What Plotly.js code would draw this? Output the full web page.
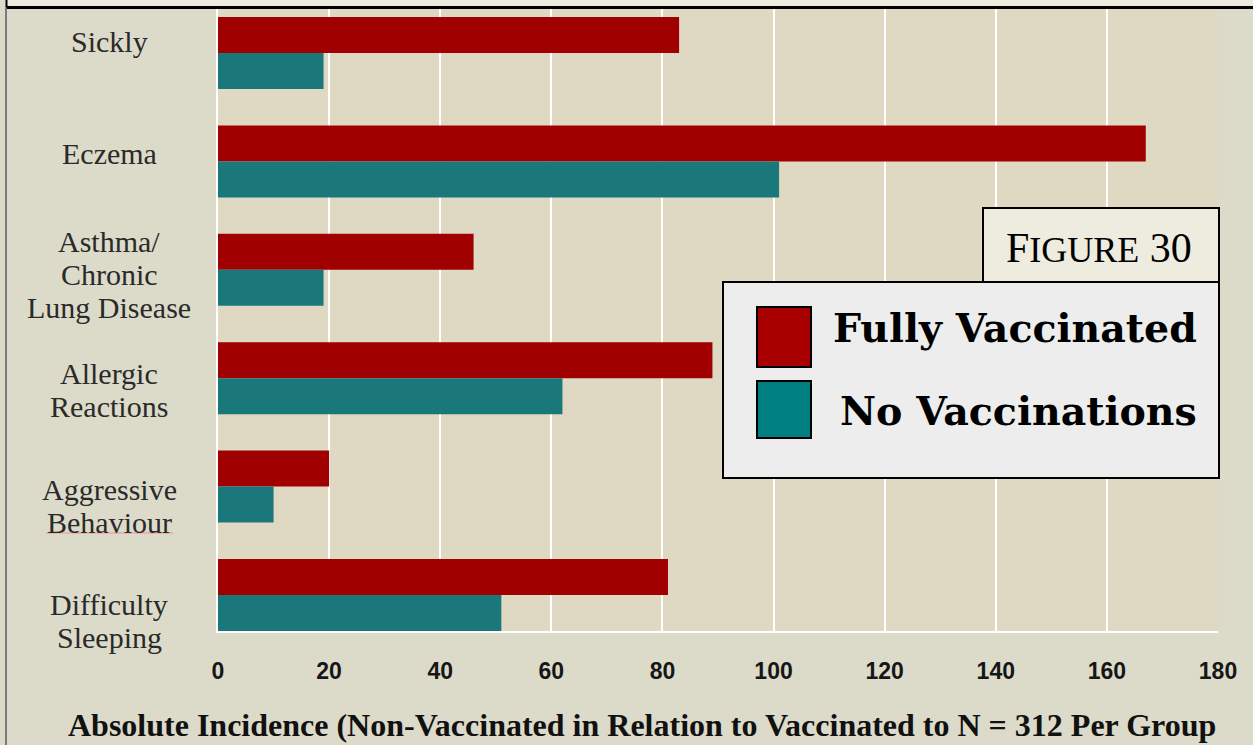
<!DOCTYPE html>
<html>
<head>
<meta charset="utf-8">
<script src="https://cdn.plot.ly/plotly-3.0.1.min.js"></script>
<style>
  html, body { margin: 0; padding: 0; background: #DCDBC9; }
  #chart { width: 1253px; height: 745px; }
</style>
</head>
<body>
<div id="chart"></div>
<script>
// ---- data ----
const categories = ['Sickly', 'Eczema', 'Asthma/<br>Chronic<br>Lung Disease', 'Allergic<br>Reactions', 'Aggressive<br>Behaviour', 'Difficulty<br>Sleeping'];
const seriesNames = ['Fully Vaccinated', 'No Vaccinations'];
const fullyVaccinated = [83, 167, 46, 89, 20, 81];
const noVaccinations = [19, 101, 19, 62, 10, 51];
const xTickValues = [0, 20, 40, 60, 80, 100, 120, 140, 160, 180];
const xAxisTitle = 'Absolute Incidence (Non-Vaccinated in Relation to Vaccinated to N = 312 Per Group';
const figureLabel = 'F<span style="font-size:36px">IGURE</span> 30';

// ---- layout helpers (pixel -> paper) ----
const W = 1253, H = 745;
const L = 218, R = 35, T = 8, B = 114;
const PW = W - L - R, PH = H - T - B;
const px = X => (X - L) / PW;
const py = Y => (H - B - Y) / PH;

const barColors = ['#A00000', '#1B787A'];
const swatchColors = ['#A80000', '#008080'];
const labelShift = [11, 8, -5, -12, -19, -26];

const traces = [
  { type: 'bar', orientation: 'h', name: seriesNames[0], y: categories, x: fullyVaccinated,
    marker: { color: barColors[0], line: { width: 0 } }, hoverinfo: 'x+y' },
  { type: 'bar', orientation: 'h', name: seriesNames[1], y: categories, x: noVaccinations,
    marker: { color: barColors[1], line: { width: 0 } }, hoverinfo: 'x+y' }
];

const annotations = [];
const labelFont = { family: 'Liberation Serif, Times New Roman, serif', size: 30, color: '#2a2a2a' };
categories.forEach((c, i) => {
  const lines = c.split('<br>');
  const n = lines.length;
  lines.forEach((ln, j) => {
    annotations.push({
      xref: 'paper', yref: 'y', x: px(109), y: c, text: ln, showarrow: false,
      xanchor: 'center', yanchor: 'middle', font: labelFont,
      yshift: labelShift[i] - (j - (n - 1) / 2) * 33
    });
  });
});
annotations.push({
  xref: 'paper', yref: 'paper', x: px(642), y: py(725), text: '<b>' + xAxisTitle + '</b>', showarrow: false,
  xanchor: 'center', yanchor: 'middle', font: { family: 'Liberation Serif, serif', size: 32, color: '#111' }
});
annotations.push({
  xref: 'paper', yref: 'paper', x: px(1099), y: py(248), text: figureLabel, showarrow: false,
  xanchor: 'center', yanchor: 'middle', font: { family: 'Liberation Serif, serif', size: 42, color: '#000' }
});
annotations.push({
  xref: 'paper', yref: 'paper', x: px(1199), y: py(328), text: '<b>' + seriesNames[0] + '</b>', showarrow: false,
  xanchor: 'right', yanchor: 'middle', font: { family: 'DejaVu Serif, serif', size: 39.5, color: '#000' }
});
annotations.push({
  xref: 'paper', yref: 'paper', x: px(1199), y: py(411), text: '<b>' + seriesNames[1] + '</b>', showarrow: false,
  xanchor: 'right', yanchor: 'middle', font: { family: 'DejaVu Serif, serif', size: 39.5, color: '#000' }
});

const rect = (x0, y0, x1, y1, fill, lineColor, lw, layer) => ({
  type: 'rect', xref: 'paper', yref: 'paper', x0: px(x0), x1: px(x1), y0: py(y0), y1: py(y1),
  fillcolor: fill, line: { color: lineColor, width: lw }, layer: layer || 'above'
});
const line = (x0, y0, x1, y1, color, lw) => ({
  type: 'line', xref: 'paper', yref: 'paper', x0: px(x0), x1: px(x1), y0: py(y0), y1: py(y1),
  line: { color: color, width: lw }, layer: 'above'
});

const shapes = [
  rect(6, -5, 1260, 7.5, '#EDEBE0', 'rgba(0,0,0,0)', 0),
  line(6, 7.5, 1260, 7.5, '#000', 3),
  line(6.5, 0, 6.5, 7.5, '#000', 2),
  line(6, 7.5, 6, 750, '#7a7a7a', 2),
  rect(983, 208, 1219, 282, '#EEEBDF', '#000', 2),
  rect(723, 282, 1219, 478, '#EDEDED', '#000', 2),
  rect(757, 307, 811, 367, swatchColors[0], '#000', 2),
  rect(757, 381, 811, 438, swatchColors[1], '#000', 2),
  line(46, 533, 173, 533, '#f09090', 1)
];

const layout = {
  width: W, height: H,
  margin: { l: L, r: R, t: T, b: B, pad: 0 },
  paper_bgcolor: '#DCDBC9',
  plot_bgcolor: '#DFD9C3',
  barmode: 'group',
  bargap: 0.336,
  bargroupgap: 0,
  showlegend: false,
  xaxis: {
    range: [0, 180], tickvals: xTickValues, ticktext: xTickValues.map(String),
    showgrid: true, gridcolor: '#FFFFFF', gridwidth: 2, zeroline: false,
    showline: true, linecolor: '#FFFFFF', linewidth: 2, mirror: false,
    ticks: '', ticklabelstandoff: 18,
    tickfont: { family: 'Liberation Sans Narrow, Arial Narrow, Liberation Sans, sans-serif', size: 23, color: '#161616', weight: 'bold' },
    fixedrange: true
  },
  yaxis: {
    type: 'category', categoryorder: 'array', categoryarray: categories,
    range: [5.332, -0.415], showticklabels: false, showgrid: false, zeroline: false,
    showline: true, linecolor: '#FFFFFF', linewidth: 2, ticks: '', fixedrange: true
  },
  annotations: annotations,
  shapes: shapes
};

Plotly.newPlot('chart', traces, layout, { displayModeBar: false, staticPlot: true });
</script>
</body>
</html>
